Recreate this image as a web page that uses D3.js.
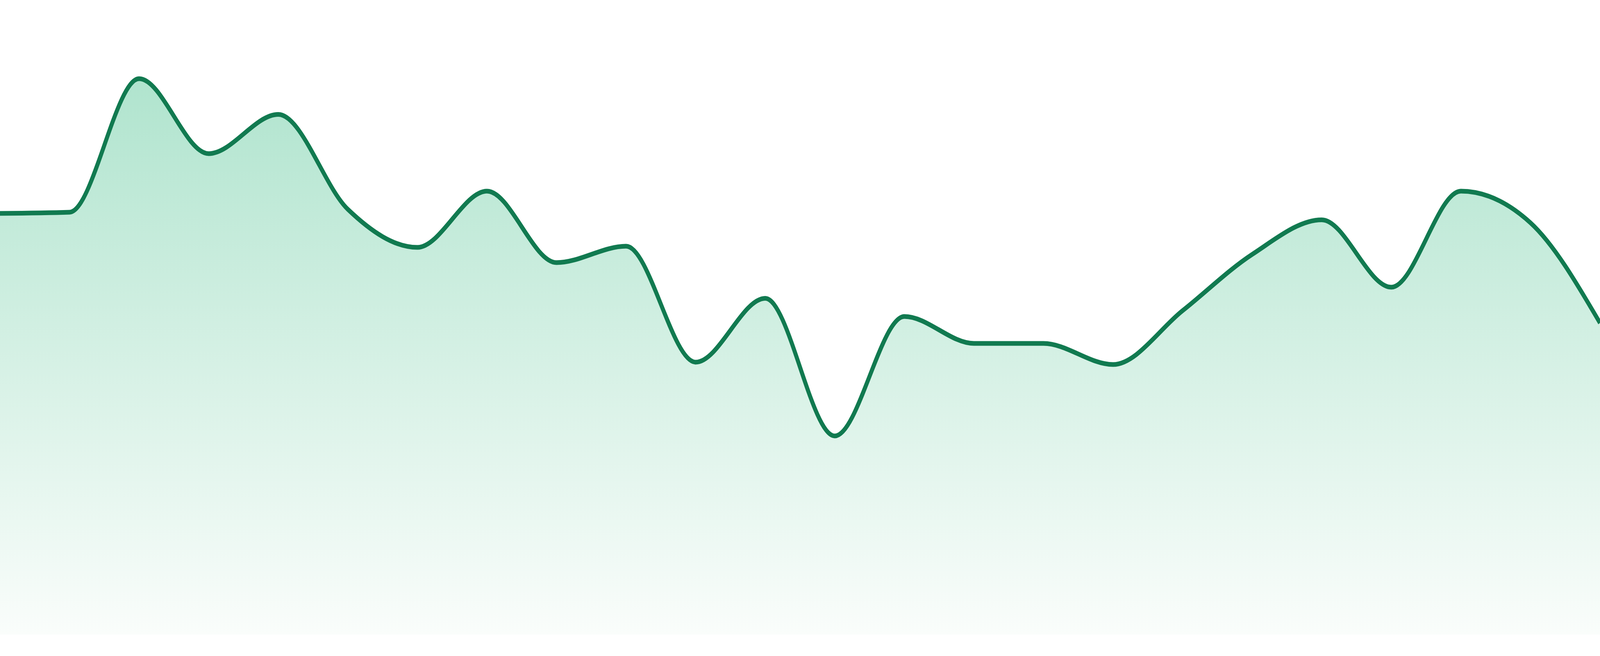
<!DOCTYPE html>
<html>
<head>
<meta charset="utf-8">
<script src="https://cdn.jsdelivr.net/npm/d3@7"></script>
<style>
  html, body { margin: 0; padding: 0; background: #ffffff; overflow: hidden; width: 100%; height: 100%; }
  #chart { width: 100vw; height: 100vh; }
  svg { display: block; width: 100vw; height: 100vh; }
</style>
</head>
<body>
<div id="chart"></div>
<script>
// Data (sparkline-style area chart, 24 evenly spaced points)
const categories = ["1","2","3","4","5","6","7","8","9","10","11","12","13","14","15","16","17","18","19","20","21","22","23","24"];
const values = [71.9, 72.1, 94.9, 82.1, 88.8, 72.6, 66.1, 75.7, 63.5, 66.3, 46.5, 57.4, 33.9, 54.3, 49.7, 49.7, 46.1, 55.3, 64.9, 70.8, 59.3, 75.7, 70.3, 53.2];
const valueDomain = [0, 100];

const W = 4800, H = 1680;
const baselineY = 1625, topY = 125;

const svg = d3.select("#chart").append("svg")
  .attr("viewBox", `0 0 ${W} ${H}`)
  .attr("preserveAspectRatio", "none");

const x = d3.scalePoint().domain(categories).range([0, W]);
const y = d3.scaleLinear().domain(valueDomain).range([baselineY, topY]);

const data = categories.map((c, i) => ({ c, v: values[i] }));

const defs = svg.append("defs");
const grad = defs.append("linearGradient")
  .attr("id", "fillGrad")
  .attr("gradientUnits", "userSpaceOnUse")
  .attr("x1", 0).attr("x2", 0)
  .attr("y1", y(d3.max(values))).attr("y2", baselineY);
grad.append("stop").attr("offset", "0%").attr("stop-color", "rgb(176,228,206)");
grad.append("stop").attr("offset", "100%").attr("stop-color", "rgb(250,253,251)");

const area = d3.area()
  .x(d => x(d.c))
  .y0(baselineY)
  .y1(d => y(d.v))
  .curve(d3.curveMonotoneX);

const line = d3.line()
  .x(d => x(d.c))
  .y(d => y(d.v))
  .curve(d3.curveMonotoneX);

svg.append("path")
  .datum(data)
  .attr("d", area)
  .attr("fill", "url(#fillGrad)");

svg.append("path")
  .datum(data)
  .attr("d", line)
  .attr("fill", "none")
  .attr("stroke", "#117a50")
  .attr("stroke-width", 12)
  .attr("stroke-linejoin", "round");
</script>
</body>
</html>
